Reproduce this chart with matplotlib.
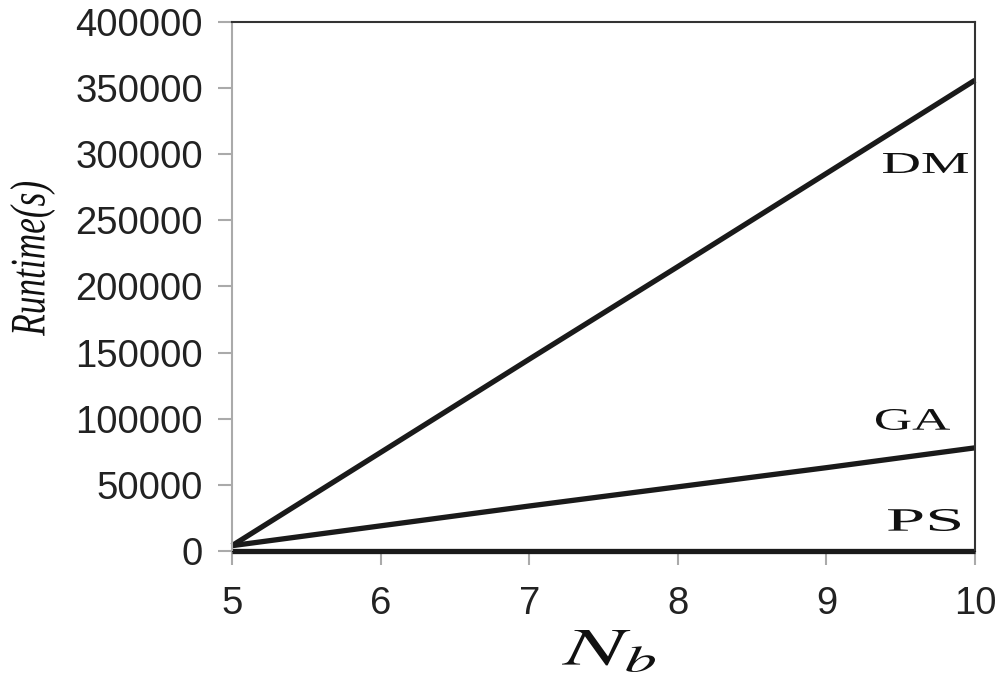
import numpy as np
import matplotlib
matplotlib.use("Agg")
import matplotlib.pyplot as plt
from matplotlib.textpath import TextPath
from matplotlib.patches import PathPatch
from matplotlib.transforms import Affine2D
from matplotlib.font_manager import FontProperties

plt.rcParams['mathtext.fontset'] = 'stix'

# values
nb = [5, 6, 7, 8, 9, 10]
dm = [4000, 74500, 145000, 215000, 285500, 356000]
ga = [4000, 19000, 34000, 48500, 63000, 78000]
ps = [0, 0, 0, 0, 0, 0]

W, H = 1000, 683


def fit_text(fig, s, box, prop, rot=False, color='#111111'):
    # box = (left, top, right, bottom) in picture pixels; text is stretched to fill it
    tp = TextPath((0, 0), s, size=1, prop=prop)
    e = tp.get_extents()
    x0, top, x1, bot = box
    if rot:
        sx = (bot - top) / e.width
        sy = (x1 - x0) / e.height
        tr = (Affine2D().translate(-e.x0, -e.y0).scale(sx, sy)
              .rotate_deg(90).translate(x1, H - bot))
    else:
        sx = (x1 - x0) / e.width
        sy = (bot - top) / e.height
        tr = Affine2D().translate(-e.x0, -e.y0).scale(sx, sy).translate(x0, H - bot)
    fig.add_artist(PathPatch(tp, transform=tr, facecolor=color, lw=0))


fig = plt.figure(figsize=(W / 100, H / 100), dpi=100)
ax = fig.add_axes([0.232, 0.1933, 0.743, 0.7745])

for y in (dm, ga, ps):
    ax.plot(nb, y, color='#1a1a1a', lw=3.8, solid_capstyle='butt', clip_on=False)

ax.set_xlim(5, 10)
ax.set_ylim(0, 400000)
ax.set_xticks(range(5, 11))
ax.set_yticks(range(0, 400001, 50000))

ax.tick_params(direction='out', length=10, width=1.5, color='#aaaaaa', labelsize=27.5)
ax.tick_params(axis='y', pad=11)
ax.tick_params(axis='x', pad=15)
for lab in ax.get_xticklabels() + ax.get_yticklabels():
    lab.set_family('Liberation Sans')
    lab.set_color('#222222')

ax.spines['left'].set_color('#aaaaaa')
ax.spines['left'].set_linewidth(1.5)
ax.spines['bottom'].set_color('#1a1a1a')
for s in ('top', 'right'):
    ax.spines[s].set_color('#333333')
    ax.spines[s].set_linewidth(1.5)

serif = FontProperties(family='Liberation Serif')
serif_it = FontProperties(family='Liberation Serif', style='italic')

fit_text(fig, 'DM', (883, 153, 968, 173), serif)
fit_text(fig, 'GA', (876, 409, 950, 430), serif)
fit_text(fig, 'PS', (888, 509, 960, 531), serif)
fit_text(fig, 'Runtime(s)', (10, 182, 55, 336), serif_it, rot=True)
fit_text(fig, '$N_b$', (562, 630, 655, 672), FontProperties())

fig.savefig('out.png', dpi=100)
